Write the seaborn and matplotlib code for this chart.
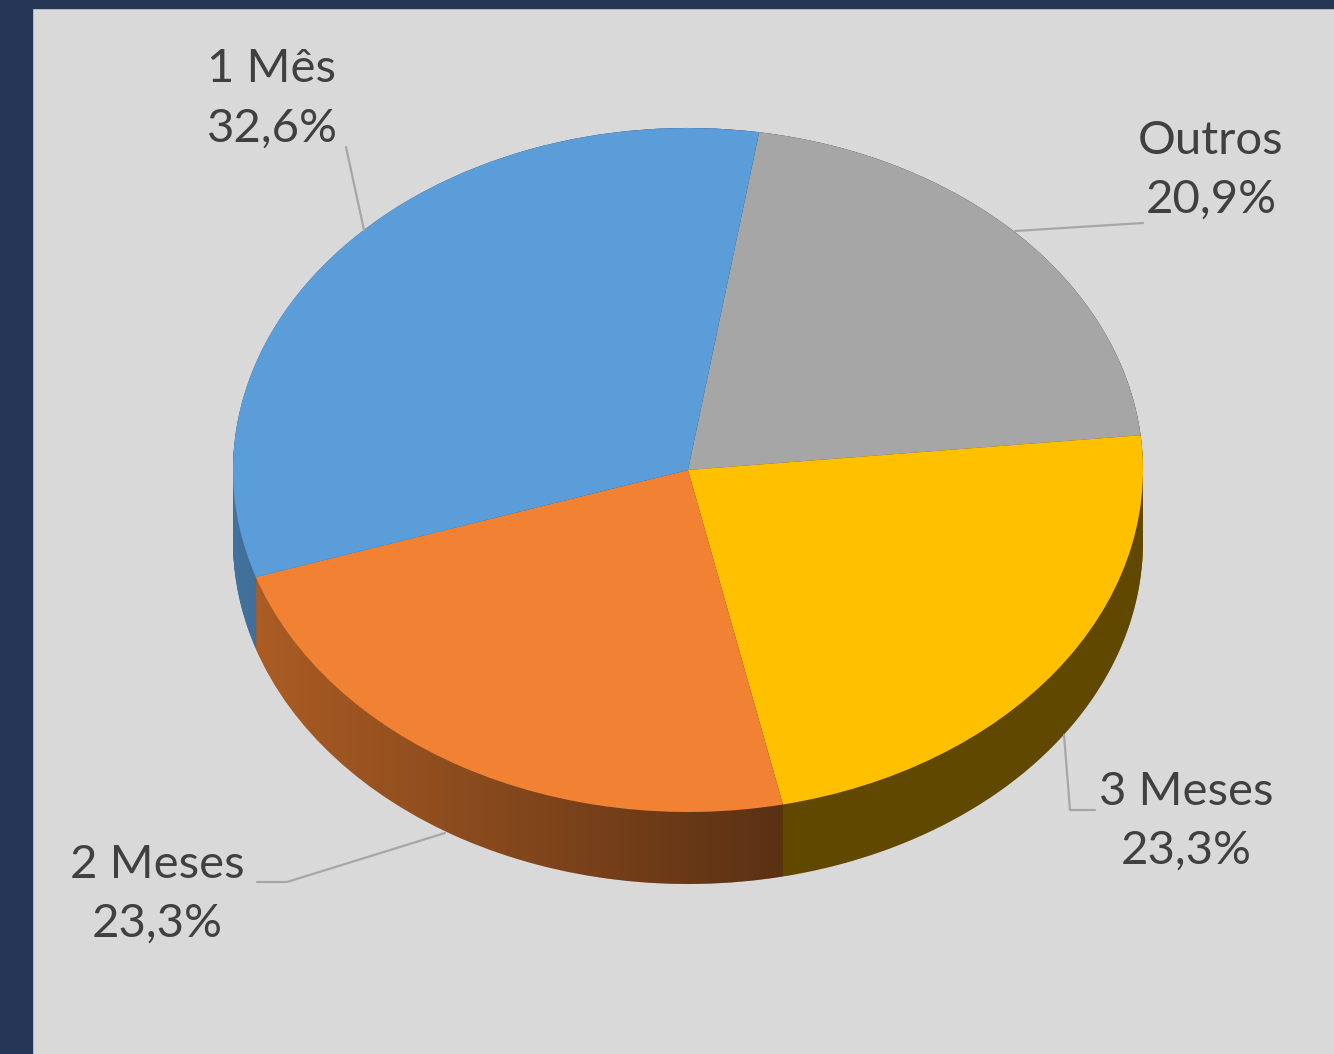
"""3D-style pie chart: share of contract durations."""

import numpy as np
import seaborn as sns
from matplotlib import pyplot as plt
from matplotlib.patches import PathPatch, Rectangle
from matplotlib.path import Path

categories = ["Outros", "3 Meses", "2 Meses", "1 Mês"]
shares = [20.9, 23.3, 23.3, 32.6]
slice_colors = ["#A6A6A6", "#FFC000", "#F18233", "#5B9DD9"]

W, H = 1334, 1054
CX, CY = 688, 470  # pie centre (px)
RX, RY = 455, 342  # ellipse radii (px)
DEPTH = 72 / RY
START = 81
BG = "#D9D9D9"

sns.set_style("white")
plt.rcParams["font.family"] = ["Lato", "DejaVu Sans"]


def px(x, y):
    """Pixel position -> data coords (pie radius = 1)."""
    return (x - CX) / RX, (CY - y) / RY


fig = plt.figure(figsize=(W / 100, H / 100), dpi=100, facecolor=BG)
ax = fig.add_axes([0, 0, 1, 1])

palette = sns.color_palette(slice_colors)
side_colors = [tuple(0.72 * c for c in col) for col in palette]

# side wall: stacked darker pies
for k in np.linspace(DEPTH, 0, 60):
    ax.pie(shares, colors=side_colors, startangle=START, counterclock=False,
           center=(0, -k), wedgeprops=dict(linewidth=0))

# horizontal shading on the side wall
t_top = np.linspace(0, np.pi, 120)
t_bot = np.linspace(np.pi, 2 * np.pi, 120)
verts = np.vstack([np.c_[np.cos(t_top), np.sin(t_top)],
                   np.c_[np.cos(t_bot), np.sin(t_bot) - DEPTH]])
outline = PathPatch(Path(np.vstack([verts, verts[:1]]), closed=True),
                    transform=ax.transData, facecolor="none", edgecolor="none")
xs = np.linspace(-1, 1, 256)
shade = np.zeros((1, 256, 4))
shade[0, :, 3] = np.clip((xs + 1) / 1.2, 0, 1) * 0.48
im = ax.imshow(shade, extent=[-1, 1, -1 - DEPTH, 1], aspect="auto",
               interpolation="bilinear", zorder=2)
im.set_clip_path(outline)

# top face
wedges, _ = ax.pie(shares, colors=palette, startangle=START, counterclock=False,
                   wedgeprops=dict(linewidth=0))
for w in wedges:
    w.set_zorder(3)

# labels and leader lines (pixel positions)
label_pos = {"Outros": (1211, 170), "3 Meses": (1186, 821),
             "2 Meses": (157, 894), "1 Mês": (272, 99)}
leaders = {"Outros": [(1143, 223), (1015, 231)],
           "3 Meses": [(1095, 810), (1070, 810), (1064, 735)],
           "2 Meses": [(257, 882), (287, 882), (445, 833)],
           "1 Mês": [(346, 147), (364, 230)]}

for cat, val in zip(categories, shares):
    pct = f"{val:.1f}".replace(".", ",") + "%"
    ax.text(*px(*label_pos[cat]), f"{cat}\n{pct}", ha="center", va="center",
            fontsize=34, color="#404040", linespacing=1.5, zorder=5)
    lx, ly = zip(*(px(x, y) for x, y in leaders[cat]))
    ax.plot(lx, ly, color="#A6A6A6", lw=1.6, zorder=4)

ax.set_frame_on(True)
ax.set_facecolor(BG)
ax.set_aspect("auto")
ax.set_xlim(px(0, 0)[0], px(W, 0)[0])
ax.set_ylim(px(0, H)[1], px(0, 0)[1])
ax.set_xticks([])
ax.set_yticks([])
for s in ax.spines.values():
    s.set_visible(False)

# dark frame on left and top
fig.add_artist(Rectangle((0, 0), 32 / W, 1, transform=fig.transFigure,
                         color="#263656", zorder=10))
fig.add_artist(Rectangle((0, 1 - 8 / H), 1, 8 / H, transform=fig.transFigure,
                         color="#263656", zorder=10))

fig.savefig("out.png", dpi=100, facecolor=BG)
